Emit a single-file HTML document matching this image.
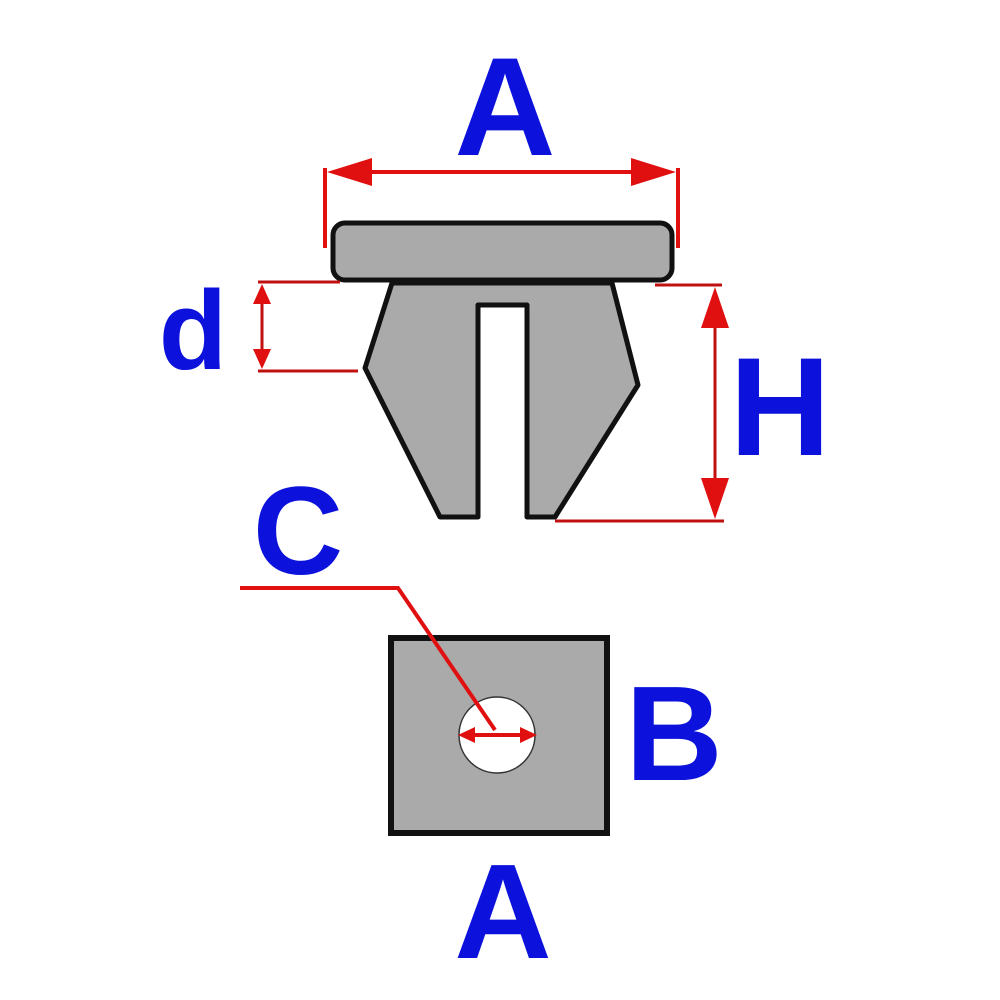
<!DOCTYPE html>
<html><head><meta charset="utf-8"><style>
html,body{margin:0;padding:0;background:#fff;}
svg{display:block;}
text{font-family:"Liberation Sans",Arial,sans-serif;font-weight:bold;fill:#0c12dc;}
</style></head><body>
<svg width="1000" height="1000" viewBox="0 0 1000 1000" xmlns="http://www.w3.org/2000/svg">
<text x="505" y="155" font-size="140" text-anchor="middle">A</text>
<g stroke="#e01010" stroke-width="4" fill="none">
<line x1="325" y1="168" x2="325" y2="248"/>
<line x1="678" y1="168" x2="678" y2="248"/>
<line x1="345" y1="172" x2="658" y2="172"/>
</g>
<polygon points="327,172 372,158 372,186" fill="#e01010"/>
<polygon points="676,172 631,158 631,186" fill="#e01010"/>
<rect x="333" y="223" width="339" height="57" rx="12" fill="#aaaaaa" stroke="#111" stroke-width="5"/>
<polygon points="392,283 365,368 440,517 478,517 478,305 527,305 527,517 555,517 638,385 612,283" fill="#aaaaaa" stroke="#111" stroke-width="5" stroke-linejoin="round"/>
<g stroke="#c01010" stroke-width="3" fill="none">
<line x1="258" y1="282" x2="340" y2="282"/>
<line x1="258" y1="371" x2="358" y2="371"/>
<line x1="262" y1="295" x2="262" y2="358"/>
</g>
<polygon points="262,284 253,304 271,304" fill="#e01010"/>
<polygon points="262,369 253,349 271,349" fill="#e01010"/>
<text x="193" y="369" font-size="112" text-anchor="middle">d</text>
<g stroke="#c01010" stroke-width="3" fill="none">
<line x1="655" y1="285" x2="722" y2="285"/>
<line x1="555" y1="521" x2="724" y2="521"/>
<line x1="715" y1="310" x2="715" y2="495"/>
</g>
<polygon points="715,287 701,328 729,328" fill="#e01010"/>
<polygon points="715,519 701,478 729,478" fill="#e01010"/>
<text x="780" y="455" font-size="140" text-anchor="middle">H</text>
<text x="298" y="574" font-size="125" text-anchor="middle">C</text>
<rect x="391" y="638" width="216" height="195" fill="#aaaaaa" stroke="#111" stroke-width="6"/>
<circle cx="497" cy="735" r="38" fill="#fff" stroke="#333" stroke-width="1.5"/>
<polyline points="240,588 398,588 495,730" fill="none" stroke="#e01010" stroke-width="4"/>
<line x1="470" y1="735" x2="525" y2="735" stroke="#e01010" stroke-width="4"/>
<polygon points="458,735 475,727 475,743" fill="#e01010"/>
<polygon points="537,735 520,727 520,743" fill="#e01010"/>
<text x="674" y="780" font-size="135" text-anchor="middle">B</text>
<text x="503" y="958" font-size="135" text-anchor="middle">A</text>
</svg>
</body></html>
